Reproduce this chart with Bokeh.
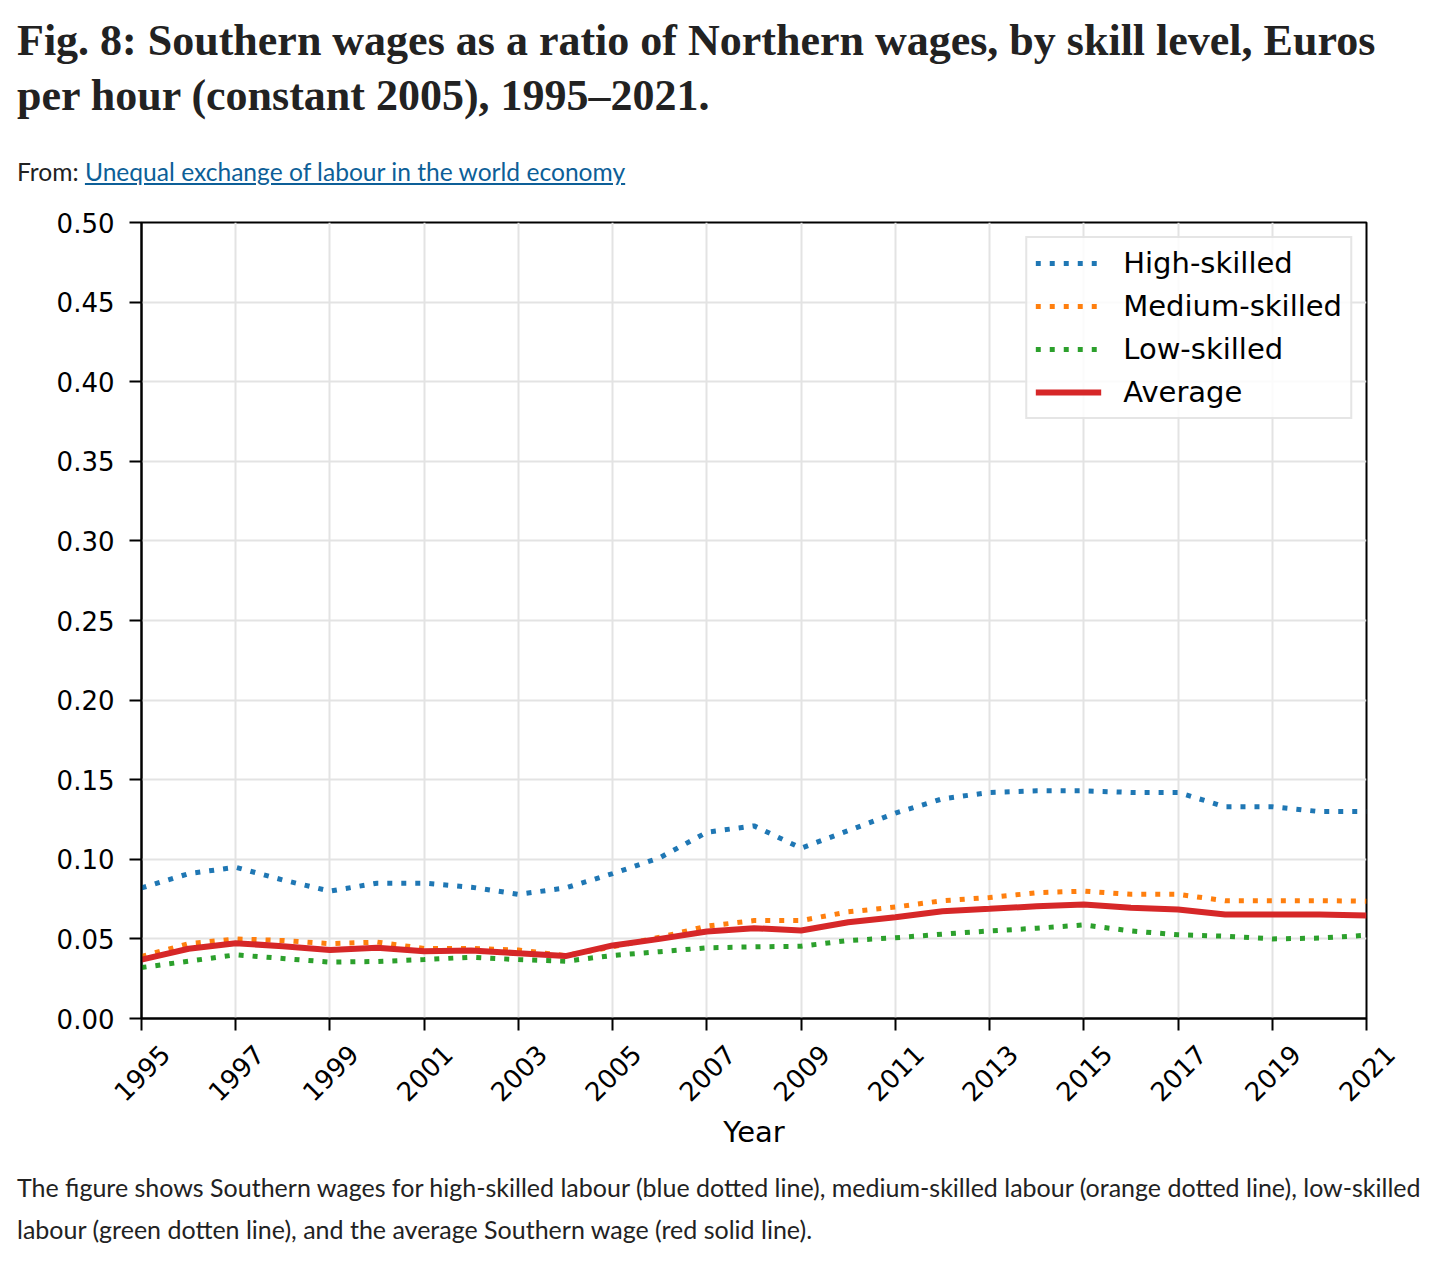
import math
from bokeh.plotting import figure
from bokeh.models import (Div, Legend, LegendItem, FixedTicker, NumeralTickFormatter, Range1d,
                          CustomJSTickFormatter)
from bokeh.core.properties import value
from bokeh.layouts import column
from bokeh.embed import file_html
from bokeh.resources import INLINE

# ---- data ----
years = [1995, 1996, 1997, 1998, 1999, 2000, 2001, 2002, 2003, 2004, 2005, 2006, 2007,
         2008, 2009, 2010, 2011, 2012, 2013, 2014, 2015, 2016, 2017, 2018, 2019, 2020, 2021]
high_skilled = [0.082, 0.091, 0.095, 0.087, 0.080, 0.085, 0.085, 0.0825, 0.078, 0.082, 0.091,
                0.101, 0.117, 0.121, 0.107, 0.118, 0.129, 0.138, 0.142, 0.143, 0.143, 0.142,
                0.142, 0.133, 0.133, 0.130, 0.130]
medium_skilled = [0.039, 0.047, 0.050, 0.049, 0.047, 0.048, 0.044, 0.044, 0.043, 0.0395, 0.045,
                  0.051, 0.058, 0.0615, 0.0615, 0.067, 0.070, 0.074, 0.076, 0.079, 0.080, 0.078,
                  0.078, 0.074, 0.074, 0.074, 0.0737]
low_skilled = [0.032, 0.036, 0.040, 0.0377, 0.0354, 0.0358, 0.037, 0.0385, 0.037, 0.036, 0.0396,
               0.042, 0.0444, 0.045, 0.0454, 0.049, 0.0507, 0.053, 0.055, 0.0567, 0.0588, 0.055,
               0.0526, 0.0517, 0.050, 0.0505, 0.0523]
average = [0.037, 0.0438, 0.0473, 0.0454, 0.0431, 0.0444, 0.0423, 0.0427, 0.041, 0.0392, 0.0459,
           0.050, 0.0546, 0.0567, 0.0553, 0.0605, 0.0636, 0.0674, 0.0689, 0.0705, 0.0716, 0.0695,
           0.0685, 0.0653, 0.0653, 0.0653, 0.0647]
series_names = ["High-skilled", "Medium-skilled", "Low-skilled", "Average"]
x_ticks = [1995, 1997, 1999, 2001, 2003, 2005, 2007, 2009, 2011, 2013, 2015, 2017, 2019, 2021]
x_tick_labels = ["1995", "1997", "1999", "2001", "2003", "2005", "2007", "2009", "2011",
                 "2013", "2015", "2017", "2019", "2021"]
y_ticks = [0.0, 0.05, 0.10, 0.15, 0.20, 0.25, 0.30, 0.35, 0.40, 0.45, 0.50]
x_start, x_end = 1995, 2021
y_start, y_end = 0.0, 0.5

title_text = ("Fig. 8: Southern wages as a ratio of Northern wages, by skill level, Euros<br>"
              "per hour (constant 2005), 1995\u20132021.")
from_label = "From:"
from_link = "Unequal exchange of labour in the world economy"
caption_line1 = ("The figure shows Southern wages for high-skilled labour (blue dotted line), "
                 "medium-skilled labour (orange dotted line), low-skilled")
caption_line2 = "labour (green dotten line), and the average Southern wage (red solid line)."

FONT = "DejaVu Sans"
FRAME_W, FRAME_H = 1225, 796
LEFT, RIGHT = 141, 54
PAD = 44  # extra pixels either side of the label strip so rotated labels are not clipped

title_div = Div(
    text=f'<div style="font-family:\'Liberation Serif\';font-weight:bold;font-size:44px;'
         f'line-height:55px;color:#222;white-space:nowrap;padding-top:13px;'
         f'padding-left:17px;">{title_text}</div>',
    width=1440, height=140, margin=0)
from_div = Div(
    text=f'<div style="font-family:Lato;font-size:24.6px;line-height:30px;color:#222;'
         f'padding-top:17px;padding-left:17px;white-space:nowrap;">{from_label} '
         f'<span style="color:#0d5f98;text-decoration:underline;">{from_link}</span></div>',
    width=1440, height=50, margin=0)
caption_div = Div(
    text=f'<div style="font-family:Lato;font-size:25px;line-height:42px;color:#222;'
         f'padding-top:6px;padding-left:17px;white-space:nowrap;">{caption_line1}<br>'
         f'{caption_line2}</div>',
    width=1440, height=100, margin=0)

# ---- main plot ----
p = figure(frame_width=FRAME_W, frame_height=FRAME_H,
           x_range=Range1d(x_start, x_end), y_range=Range1d(y_start, y_end),
           output_backend="svg", toolbar_location=None,
           min_border_left=LEFT, min_border_right=RIGHT, min_border_top=32, min_border_bottom=20)
p.frame_align = False

p.outline_line_color = "black"
p.outline_line_width = 2
p.outline_line_alpha = 1.0

for ax in (p.xaxis[0], p.yaxis[0]):
    ax.axis_line_color = "black"
    ax.axis_line_width = 2
    ax.major_tick_line_color = "black"
    ax.major_tick_line_width = 2
    ax.major_tick_out = 12
    ax.major_tick_in = 0
    ax.minor_tick_line_color = None
    ax.major_label_text_font = FONT
    ax.major_label_text_font_size = "26px"
    ax.major_label_text_color = "black"

p.xaxis.ticker = FixedTicker(ticks=x_ticks)
p.yaxis.ticker = FixedTicker(ticks=y_ticks)
p.yaxis.formatter = NumeralTickFormatter(format="0.00")
p.xaxis.formatter = CustomJSTickFormatter(code="return ''")
p.xaxis.major_label_text_font_size = "0px"
p.xaxis.major_label_standoff = 0
p.yaxis.major_label_standoff = 15

p.xgrid.grid_line_color = "#e3e3e3"
p.ygrid.grid_line_color = "#e3e3e3"
p.xgrid.grid_line_width = 2
p.ygrid.grid_line_width = 2

colors = ["#1f77b4", "#ff7f0e", "#2ca02c", "#d62728"]
data = [high_skilled, medium_skilled, low_skilled, average]
items = []
for name, ys, c in zip(series_names, data, colors):
    if name == "Average":
        r = p.line(years, ys, line_color=c, line_width=6)
    else:
        r = p.line(years, ys, line_color=c, line_width=5, line_dash="5 9", line_cap="butt")
    items.append(LegendItem(label=name, renderers=[r]))

legend = Legend(items=items, location="top_right")
legend.label_text_font = FONT
legend.label_text_font_size = "29px"
legend.label_text_color = "black"
legend.glyph_width = 66
legend.glyph_height = 34
legend.label_height = 34
legend.spacing = 9
legend.padding = 8
legend.margin = 14
legend.label_standoff = 22
legend.border_line_color = "#cccccc"
legend.border_line_width = 2
legend.background_fill_alpha = 0.85
p.add_layout(legend)

# ---- strip below the plot: rotated year labels centred on ticks, and axis title ----
px_per_unit = FRAME_W / (x_end - x_start)
pad_units = PAD / px_per_unit
q = figure(frame_width=FRAME_W + 2 * PAD, frame_height=68,
           x_range=Range1d(x_start - pad_units, x_end + pad_units), y_range=Range1d(-1, 1),
           output_backend="svg", toolbar_location=None,
           min_border_left=LEFT - PAD, min_border_right=RIGHT - PAD,
           min_border_top=0, min_border_bottom=54)
q.frame_align = False
q.outline_line_color = None
q.xgrid.visible = False
q.ygrid.visible = False
q.yaxis.visible = False
q.xaxis.ticker = FixedTicker(ticks=[])
q.xaxis.axis_line_color = None
q.xaxis.major_tick_line_color = None
q.xaxis.minor_tick_line_color = None
q.xaxis.major_label_text_font_size = "0px"
q.xaxis.axis_label = "Year"
q.xaxis.axis_label_text_font = FONT
q.xaxis.axis_label_text_font_size = "29px"
q.xaxis.axis_label_text_font_style = "normal"
q.xaxis.axis_label_text_color = "black"
q.xaxis.axis_label_standoff = 8
q.text(x=x_ticks, y=[0] * len(x_ticks), text=x_tick_labels, angle=math.pi / 4,
       text_align="center", text_baseline="middle", text_font=value(FONT),
       text_font_size=value("26px"), text_color="black")

layout = column(title_div, from_div, p, q, caption_div)

open("out.html", "w").write(file_html(layout, INLINE))
